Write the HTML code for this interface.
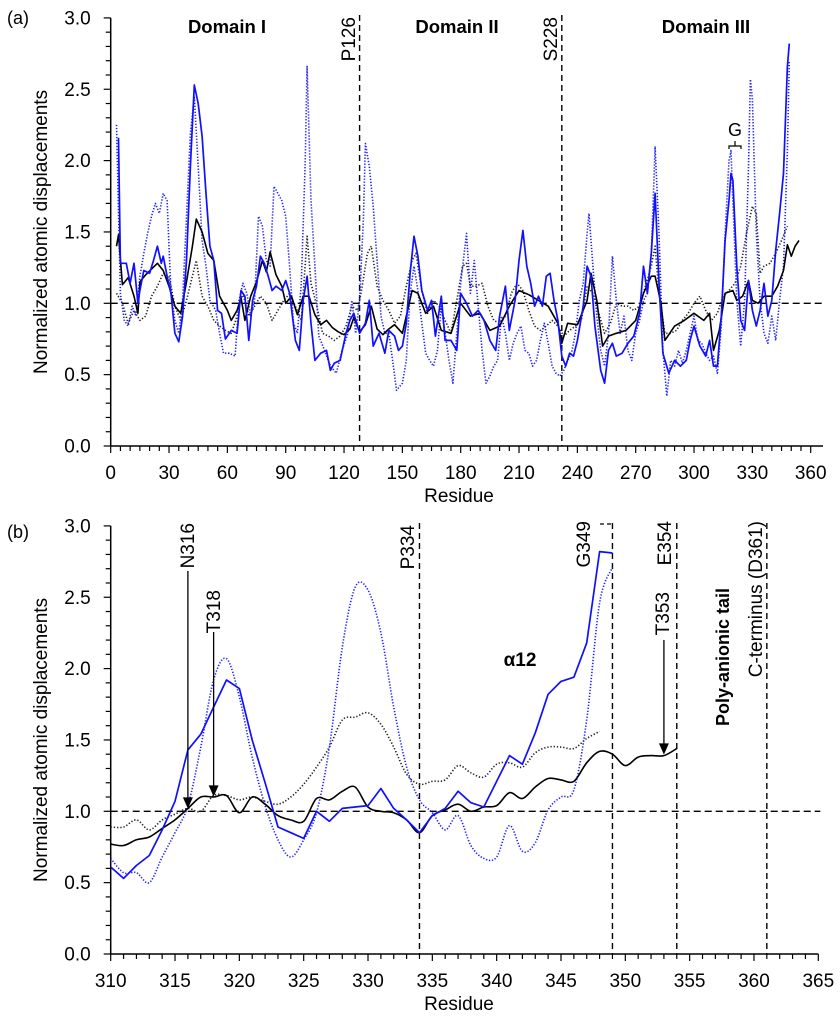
<!DOCTYPE html>
<html><head><meta charset="utf-8">
<style>
html,body{margin:0;padding:0;background:#fff;}
svg{display:block;font-family:"Liberation Sans",Arial,sans-serif;}
</style></head>
<body>
<svg id="chart" width="840" height="1024" viewBox="0 0 840 1024" xmlns="http://www.w3.org/2000/svg">
<g id="panelA"></g>
<g id="panelB"></g>
</svg>
<script>
// ---------- Panel (a) data: [residue, value] ----------
const aBlackSolid=[[3,1.4],[4,1.48],[6,1.13],[9,1.18],[12,1.05],[14,0.93],[15,1.15],[18,1.2],[21,1.24],[24,1.28],[27,1.23],[30,1.12],[33,0.98],[36,0.93],[39,1.15],[42,1.4],[44,1.59],[47,1.5],[50,1.35],[53,1.3],[56,1.05],[60,0.95],[62,0.88],[65,0.95],[67,1.04],[69,0.88],[72,1.05],[75,1.15],[78,1.3],[80,1.22],[82,1.36],[85,1.2],[88,1.12],[90,1.0],[93,1.05],[96,0.92],[99,1.05],[102,1.05],[105,0.92],[108,0.85],[111,0.88],[114,0.83],[117,0.8],[120,0.78],[123,0.82],[125,0.9],[128,0.8],[131,0.85],[134,0.98],[137,0.82],[140,0.78],[143,0.82],[146,0.85],[150,0.79],[155,1.09],[158,1.07],[162,0.93],[166,0.98],[170,0.81],[175,0.79],[180,1.0],[185,0.91],[190,0.93],[195,0.81],[200,0.84],[205,0.98],[210,1.09],[215,1.06],[220,1.02],[225,0.98],[230,0.86],[232,0.72],[235,0.86],[240,0.85],[245,1.02],[247,1.21],[250,1.02],[253,0.7],[256,0.77],[260,0.79],[265,0.81],[270,0.88],[274,1.07],[278,1.19],[280,1.19],[283,1.0],[285,0.74],[290,0.84],[295,0.88],[300,0.93],[305,0.88],[308,0.93],[310,0.67],[313,0.81],[316,1.07],[320,1.09],[322,1.02],[325,1.05],[328,1.16],[330,1.02],[333,1.0],[336,1.05],[340,1.05],[343,1.12],[346,1.23],[348,1.41],[350,1.33],[352,1.4],[354,1.44]];
const aBlueSolid=[[4,2.16],[5,1.28],[8,1.28],[10,1.14],[12,1.28],[14,1.0],[15,1.09],[17,1.23],[20,1.21],[22,1.3],[24,1.4],[26,1.28],[27,1.33],[29,1.19],[31,1.07],[33,0.79],[35,0.73],[37,0.91],[39,1.3],[41,1.96],[43,2.53],[45,2.4],[47,2.17],[49,1.77],[51,1.4],[53,1.3],[55,0.95],[57,0.93],[59,0.75],[62,0.81],[65,0.79],[67,1.09],[69,1.05],[71,0.74],[73,1.02],[75,1.12],[77,1.33],[79,1.28],[81,1.19],[83,1.09],[85,1.12],[88,1.09],[90,1.16],[92,1.07],[95,0.74],[97,0.67],[99,1.02],[101,1.19],[103,0.86],[105,0.6],[108,0.65],[111,0.67],[113,0.53],[115,0.58],[118,0.6],[121,0.79],[123,0.88],[125,0.93],[128,0.79],[131,0.86],[133,1.02],[135,0.7],[138,0.79],[141,0.65],[143,0.81],[146,0.77],[148,0.67],[150,0.7],[152,0.86],[154,1.21],[156,1.47],[158,1.33],[160,1.09],[163,0.95],[165,1.02],[167,0.77],[170,1.05],[172,0.74],[175,0.74],[178,0.67],[180,1.07],[183,1.0],[186,0.91],[189,0.95],[192,0.88],[195,0.74],[198,0.67],[200,0.91],[203,1.12],[205,0.81],[208,1.02],[210,1.3],[212,1.51],[214,1.26],[216,1.14],[218,0.98],[220,1.05],[222,0.98],[224,1.19],[226,1.21],[228,1.02],[230,0.88],[232,0.63],[234,0.56],[236,0.65],[238,0.63],[240,0.74],[243,0.98],[245,1.26],[247,1.19],[249,0.84],[252,0.53],[254,0.44],[256,0.67],[258,0.72],[260,0.63],[263,0.65],[266,0.72],[269,0.77],[272,0.93],[274,1.26],[276,1.07],[278,1.35],[280,1.77],[282,1.14],[284,0.65],[287,0.51],[290,0.6],[293,0.56],[296,0.6],[298,0.74],[300,0.84],[303,0.7],[306,0.63],[308,0.74],[310,0.56],[312,0.56],[314,0.91],[316,1.44],[318,1.72],[319,1.91],[320,1.86],[322,1.26],[324,0.88],[326,0.81],[328,1.16],[330,0.95],[332,0.84],[334,0.95],[336,1.14],[338,0.91],[340,1.02],[342,1.37],[344,1.63],[346,1.91],[348,2.66],[349,2.82]];
const aBlueDotted=[[3,2.25],[5,1.07],[7,0.88],[9,0.84],[11,0.98],[13,0.91],[15,1.19],[17,1.35],[19,1.49],[21,1.61],[23,1.7],[25,1.63],[27,1.77],[29,1.72],[31,1.07],[33,0.88],[35,0.79],[37,1.02],[39,1.61],[41,2.19],[43,2.45],[45,1.96],[47,1.44],[49,1.26],[51,1.02],[54,0.95],[56,0.79],[58,0.65],[61,0.65],[64,0.63],[66,1.02],[68,1.14],[70,1.07],[72,0.91],[74,1.02],[76,1.61],[78,1.54],[80,1.3],[82,1.26],[84,1.82],[86,1.77],[88,1.72],[90,1.61],[92,1.26],[94,0.86],[96,0.79],[98,1.14],[100,1.96],[101,2.66],[103,1.72],[105,1.26],[107,0.77],[110,0.67],[113,0.56],[116,0.51],[119,0.67],[122,0.79],[124,1.02],[126,0.79],[128,1.02],[130,1.61],[131,2.12],[133,1.96],[135,1.68],[137,1.3],[139,0.91],[141,0.79],[143,0.79],[145,0.6],[147,0.39],[150,0.44],[152,0.6],[154,1.07],[156,1.26],[158,1.09],[160,0.86],[162,0.65],[164,0.6],[166,0.56],[168,0.67],[170,0.98],[172,0.79],[174,0.6],[176,0.44],[178,0.79],[180,1.14],[183,1.49],[185,1.07],[187,1.3],[189,0.98],[191,0.67],[193,0.44],[195,0.49],[197,0.56],[199,0.6],[201,0.91],[203,0.79],[205,0.6],[207,0.72],[209,0.79],[211,0.84],[213,0.67],[215,0.65],[217,0.56],[219,0.6],[221,0.74],[223,0.86],[225,0.72],[227,0.56],[229,0.51],[231,0.49],[233,0.53],[235,0.6],[237,0.65],[239,0.79],[241,1.02],[243,1.14],[245,1.49],[246,1.63],[248,1.26],[250,0.91],[252,0.67],[254,0.56],[256,0.79],[258,1.33],[260,1.02],[262,0.79],[264,0.91],[266,0.67],[268,0.6],[270,0.79],[272,0.88],[274,1.02],[276,1.07],[278,1.35],[279,1.72],[280,2.1],[282,1.49],[284,0.67],[286,0.35],[288,0.6],[290,0.56],[292,0.67],[294,0.58],[296,0.67],[298,0.79],[300,0.91],[302,0.74],[304,0.72],[306,0.65],[308,0.6],[310,0.63],[312,0.51],[314,0.84],[316,1.49],[318,2.0],[319,2.07],[320,1.72],[322,1.02],[324,0.7],[326,1.02],[328,1.96],[329,2.57],[330,2.43],[332,1.49],[334,1.02],[336,0.79],[338,0.72],[340,0.91],[342,0.74],[344,1.02],[346,1.26],[348,2.07],[349,2.7]];
const aBlackDotted=[[3,1.07],[6,1.0],[9,0.86],[12,0.95],[15,0.88],[18,0.91],[21,1.05],[24,1.12],[27,1.21],[30,1.19],[33,0.98],[36,0.88],[39,1.02],[42,1.19],[44,1.3],[47,1.05],[50,0.98],[53,0.88],[56,0.84],[59,0.81],[62,0.79],[65,0.91],[68,1.07],[71,0.91],[74,0.98],[77,1.05],[80,1.0],[83,0.88],[86,0.95],[89,1.02],[92,1.07],[95,0.98],[98,0.88],[100,1.26],[101,1.47],[103,1.14],[106,0.98],[109,0.79],[112,0.77],[115,0.74],[118,0.77],[121,0.84],[124,0.98],[127,0.95],[129,1.09],[132,1.35],[134,1.4],[137,1.12],[140,1.02],[143,0.95],[146,0.86],[149,0.91],[152,1.12],[155,1.3],[157,1.35],[160,1.09],[163,0.93],[166,1.02],[169,0.98],[172,0.88],[175,0.79],[178,1.02],[181,1.26],[183,1.28],[185,1.12],[188,1.12],[191,1.14],[194,0.98],[197,0.88],[200,0.86],[203,0.91],[206,1.07],[209,1.14],[212,1.09],[215,0.95],[218,0.84],[221,0.81],[224,0.84],[227,0.88],[230,0.84],[233,0.77],[236,0.81],[239,0.84],[242,0.88],[245,1.12],[248,1.07],[251,0.93],[254,0.79],[257,0.86],[260,1.0],[263,0.98],[266,0.98],[269,0.95],[272,0.98],[275,1.12],[278,1.26],[280,1.4],[282,1.07],[285,0.79],[288,0.79],[291,0.81],[294,0.88],[297,0.93],[300,1.0],[303,1.05],[306,0.95],[309,0.88],[312,0.93],[315,1.05],[318,1.09],[321,1.14],[324,1.26],[327,1.49],[330,1.68],[332,1.63],[334,1.21],[336,1.26],[339,1.28],[342,1.35],[345,1.44],[348,1.54]];

// ---------- Panel (b) data: residues 310.. and values ----------
const bBlackSolid=[0.77,0.76,0.8,0.82,0.88,0.94,1.02,1.1,1.1,1.11,0.99,1.1,1.05,0.97,0.94,0.93,1.09,1.08,1.14,1.17,1.03,1.0,0.99,0.94,0.85,0.97,1.01,1.05,1.0,1.03,1.04,1.13,1.09,1.17,1.23,1.22,1.21,1.34,1.42,1.4,1.32,1.38,1.39,1.39,1.44];
const bBlueSolid=[0.61,0.53,0.62,0.69,0.87,1.07,1.43,1.54,1.73,1.92,1.86,1.5,1.2,0.89,0.85,0.81,1.0,0.93,1.02,1.03,1.04,1.16,1.02,0.94,0.85,0.97,1.02,1.14,1.06,1.03,1.21,1.39,1.33,1.55,1.82,1.91,1.94,2.18,2.82,2.81];
const bBlueDotted=[0.67,0.57,0.57,0.5,0.68,0.85,1.04,1.45,1.92,2.07,1.8,1.38,1.04,0.8,0.68,0.8,0.99,1.45,2.15,2.57,2.55,2.25,1.73,1.31,1.08,0.99,0.87,0.97,0.76,0.67,0.68,0.9,0.72,0.78,1.01,1.1,1.15,1.64,2.46,2.71];
const bBlackDotted=[0.89,0.89,0.94,0.87,0.94,0.98,1.02,1.0,1.11,1.11,1.08,1.1,1.07,1.05,1.1,1.19,1.31,1.45,1.64,1.66,1.69,1.61,1.45,1.26,1.19,1.21,1.22,1.32,1.27,1.24,1.33,1.34,1.31,1.41,1.45,1.45,1.44,1.51,1.56];
const bStart=310;

// tick labels
const yTicks=["0.0","0.5","1.0","1.5","2.0","2.5","3.0"];
const aXTicks=[0,30,60,90,120,150,180,210,240,270,300,330,360];
const bXTicks=[310,315,320,325,330,335,340,345,350,355,360,365];

const NS="http://www.w3.org/2000/svg";
function mk(parent,tag,attrs,text){const e=document.createElementNS(NS,tag);for(const k in attrs)e.setAttribute(k,attrs[k]);if(text!==undefined)e.textContent=text;parent.appendChild(e);return e;}

const left=110.7;
const A={x0:0,x1:360,px0:left,px1:810.7,y0:446,unit:142.7,axisEnd:823};
const B={x0:310,x1:365,px0:left,px1:818.3,y0:954,unit:142.7,axisEnd:818.3};
function sx(P,v){return P.px0+(v-P.x0)*(P.px1-P.px0)/(P.x1-P.x0);}
function sy(P,v){return P.y0-v*P.unit;}

function smoothPath(pts){
  let d="M"+pts[0][0].toFixed(1)+","+pts[0][1].toFixed(1);
  for(let i=0;i<pts.length-1;i++){
    const p0=pts[i-1]||pts[i],p1=pts[i],p2=pts[i+1],p3=pts[i+2]||p2;
    const c1x=p1[0]+(p2[0]-p0[0])/6,c1y=p1[1]+(p2[1]-p0[1])/6;
    const c2x=p2[0]-(p3[0]-p1[0])/6,c2y=p2[1]-(p3[1]-p1[1])/6;
    d+=" C"+c1x.toFixed(1)+","+c1y.toFixed(1)+" "+c2x.toFixed(1)+","+c2y.toFixed(1)+" "+p2[0].toFixed(1)+","+p2[1].toFixed(1);
  }
  return d;
}
function linePath(pts){return "M"+pts.map(p=>p[0].toFixed(1)+","+p[1].toFixed(1)).join(" L");}

function drawAxes(g,P,ticks,minorStep,majorStep,panel){
  const top=sy(P,3.0);
  const ya=mk(g,"line",{x1:P.px0,y1:top,x2:P.px0,y2:P.y0,stroke:"#000","stroke-width":1.5});
  
  
  for(let i=0;i<=30;i++){
    const y=sy(P,i/10);const maj=i%5===0;
    mk(g,"line",{x1:P.px0-(maj?7:5),y1:y,x2:P.px0,y2:y,stroke:"#000","stroke-width":1.2});
  }
  yTicks.forEach((t,i)=>{
    const tl=mk(g,"text",{x:P.px0-20,y:sy(P,i*0.5)+6.5,"text-anchor":"end","font-size":19,fill:"#000"},t);
    
    
  });
  const xa=mk(g,"line",{x1:P.px0,y1:P.y0,x2:P.axisEnd,y2:P.y0,stroke:"#000","stroke-width":1.5});
  
  
  for(let v=P.x0;v<=P.x1+0.001;v+=minorStep){
    const maj=Math.abs((v-P.x0)/majorStep-Math.round((v-P.x0)/majorStep))<1e-6;
    const x=sx(P,v);
    mk(g,"line",{x1:x,y1:P.y0,x2:x,y2:P.y0+(maj?7:5),stroke:"#000","stroke-width":1.2});
  }
  ticks.forEach(t=>{
    const tl=mk(g,"text",{x:sx(P,t),y:P.y0+33,"text-anchor":"middle","font-size":19,fill:"#000"},String(t));
    
    
  });
  const xt=mk(g,"text",{x:459,y:P.y0+56,"text-anchor":"middle","font-size":19,fill:"#000"},"Residue");
  
  
  const ytc=(top+P.y0)/2;
  const yt=mk(g,"text",{x:0,y:0,transform:"translate(47,"+ytc+") rotate(-90)","text-anchor":"middle","font-size":19,fill:"#000"},"Normalized atomic displacements");
  
  
  const rl=mk(g,"line",{x1:P.px0,y1:sy(P,1.0),x2:P.axisEnd+2,y2:sy(P,1.0),stroke:"#000","stroke-width":1.4,"stroke-dasharray":"7,4"});
  
  
}
function vline(g,P,res,name,y1){
  const l=mk(g,"line",{x1:sx(P,res),y1:y1,x2:sx(P,res),y2:P.y0,stroke:"#000","stroke-width":1.4,"stroke-dasharray":"6,4"});
  
  
}
function rotText(g,x,yBottomEnd,txt,name,opts){
  opts=opts||{};
  const t=mk(g,"text",{x:0,y:0,transform:"translate("+x+","+yBottomEnd+") rotate(-90)","text-anchor":opts.anchor||"end","font-size":opts.size||19,"font-weight":opts.bold?"bold":"normal",fill:"#000"},txt);
  
  
}
function series(g,pts,style,name,smooth){
  const p=mk(g,"path",Object.assign({d:smooth?smoothPath(pts):linePath(pts),fill:"none","stroke-linejoin":"round"},style));
  
  
}
const stBlack={stroke:"#000","stroke-width":1.6};
const stBlue={stroke:"#1010ff","stroke-width":1.7};
const stBlueDot={stroke:"#2020ff","stroke-width":1.6,"stroke-dasharray":"1.3,1.7"};
const stBlackDot={stroke:"#222","stroke-width":1.6,"stroke-dasharray":"1.3,1.9"};

// ---------- Panel A ----------
const gA=document.getElementById("panelA");
drawAxes(gA,A,aXTicks,5,30,"panel-a");
vline(gA,A,128,"p126-divider",sy(A,3.02));
vline(gA,A,232,"s228-divider",sy(A,3.02));
function mapA(arr){return arr.map(d=>[sx(A,d[0]),sy(A,d[1])]);}
series(gA,mapA(aBlackDotted),stBlackDot,"panel-a-black-dotted-series",false);
series(gA,mapA(aBlueDotted),stBlueDot,"panel-a-blue-dotted-series",false);
series(gA,mapA(aBlackSolid),stBlack,"panel-a-black-solid-series",false);
series(gA,mapA(aBlueSolid),stBlue,"panel-a-blue-solid-series",false);
[["Domain I",227,"domain-i-label"],["Domain II",457,"domain-ii-label"],["Domain III",706,"domain-iii-label"]].forEach(d=>{
  const t=mk(gA,"text",{x:d[1],y:33,"text-anchor":"middle","font-size":18.5,"font-weight":"bold",fill:"#000"},d[0]);
  
  
});
rotText(gA,355,17,"P126","p126-label",{anchor:"end"});
rotText(gA,557,17,"S228","s228-label",{anchor:"end"});
const gl=mk(gA,"text",{x:735,y:136,"text-anchor":"middle","font-size":18,fill:"#000"},"G");


const gb=mk(gA,"path",{d:"M729,149 L729,146 L741,146 L741,149 M735,146 L735,141",fill:"none",stroke:"#000","stroke-width":1.2});


const la=mk(gA,"text",{x:7,y:24,"font-size":18,fill:"#000"},"(a)");



// ---------- Panel B ----------
const gB=document.getElementById("panelB");
drawAxes(gB,B,bXTicks,1,5,"panel-b");
vline(gB,B,334,"p334-divider",sy(B,3.02));
vline(gB,B,349,"g349-divider",sy(B,3.02));
vline(gB,B,354,"e354-divider",sy(B,3.02));
vline(gB,B,361,"c-terminus-divider",sy(B,3.02));
const bk=mk(gB,"path",{d:"M600,524 L612.6,524",fill:"none",stroke:"#000","stroke-width":1.3,"stroke-dasharray":"4,3"});


function mapB(arr){return arr.map((v,i)=>[sx(B,bStart+i),sy(B,v)]);}
series(gB,mapB(bBlackDotted),stBlackDot,"panel-b-black-dotted-series",true);
series(gB,mapB(bBlueDotted),stBlueDot,"panel-b-blue-dotted-series",true);
series(gB,mapB(bBlackSolid),stBlack,"panel-b-black-solid-series",true);
series(gB,mapB(bBlueSolid),stBlue,"panel-b-blue-solid-series",false);
function arrow(g,res,y1,y2,name){
  const x=sx(B,res);
  const a=mk(g,"path",{d:"M"+x+","+y1+" L"+x+","+(y2-8)+" M"+(x-4)+","+(y2-9)+" L"+x+","+y2+" L"+(x+4)+","+(y2-9)+" Z",fill:"#000",stroke:"#000","stroke-width":1.3});
  
  
}
rotText(gB,194,523,"N316","n316-label",{anchor:"end"});
arrow(gB,316,571,807,"n316-arrow");
rotText(gB,220,590,"T318","t318-label",{anchor:"end"});
arrow(gB,318,632,795,"t318-arrow");
rotText(gB,414,525,"P334","p334-label",{anchor:"end"});
rotText(gB,590,521,"G349","g349-label",{anchor:"end"});
rotText(gB,671,521,"E354","e354-label",{anchor:"end"});
rotText(gB,669,592,"T353","t353-label",{anchor:"end"});
arrow(gB,353,640,753,"t353-arrow");
rotText(gB,729,657,"Poly-anionic tail","poly-anionic-tail-label",{anchor:"middle",bold:true,size:18});
rotText(gB,762,521,"C-terminus (D361)","c-terminus-label",{anchor:"end"});
const al=mk(gB,"text",{x:520,y:666,"text-anchor":"middle","font-size":19,"font-weight":"bold",fill:"#000"},"α12");


const lb=mk(gB,"text",{x:7,y:538,"font-size":18,fill:"#000"},"(b)");


</script>
</body></html>
